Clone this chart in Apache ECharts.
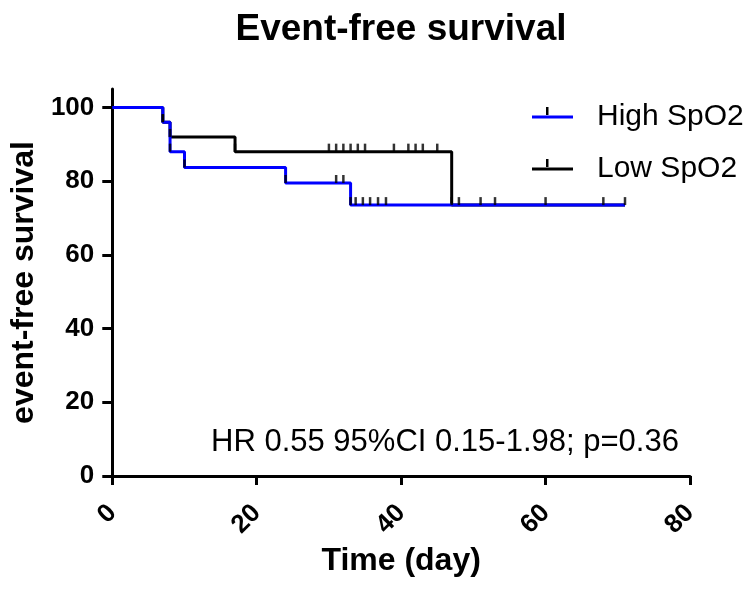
<!DOCTYPE html>
<html>
<head>
<meta charset="utf-8">
<script src="https://cdn.jsdelivr.net/npm/echarts@6/dist/echarts.min.js"></script>
<style>html,body{margin:0;padding:0;background:#fff;}#c{width:744px;height:591px;}</style>
</head>
<body>
<div id="c"></div>
<script>
// Kaplan-Meier step points [day, survival %]
const highSteps = [[0,100],[7,96],[8,88],[10,83.7],[24,79.5],[33,73.5],[71,73.5]];
const lowSteps = [[0,100],[7,96],[8,92],[17,88],[47,73.5],[71,73.5]];
// censor marks [day, survival %]
const highCensor = [[31,79.5],[32,79.5],[33.7,73.5],[34.7,73.5],[35.7,73.5],[36.8,73.5],[37.9,73.5]];
const lowCensor = [[30,88],[31,88],[32,88],[33,88],[34,88],[35,88],[39,88],[41,88],[42,88],[43,88],[45,88],
                   [48,73.5],[51,73.5],[53,73.5],[60,73.5],[68,73.5],[71,73.5]];
const yTicks = [0,20,40,60,80,100];
const xTicks = [0,20,40,60,80];
const seriesNames = ['High SpO2','Low SpO2'];
const titleText = 'Event-free survival';
const annotation = 'HR 0.55 95%CI 0.15-1.98; p=0.36';

// event symbols sit at every step point (except the start and the end of follow-up)
const highEvents = highSteps.slice(1, -1);
const lowEvents = lowSteps.slice(1, -1);

const chart = echarts.init(document.getElementById('c'));
const F = 'Liberation Sans, Arial, sans-serif';
const tickSym = {symbol:'rect', symbolSize:[2.5,8], symbolOffset:[0,-4], itemStyle:{color:'#000'}, silent:true};
chart.setOption({
  animation:false,
  title:{text:titleText, left:396, top:6, textAlign:'center',
    textStyle:{fontFamily:F, fontSize:37, fontWeight:'bold', color:'#000'}},
  grid:{left:112, right:54, top:89, bottom:115, containLabel:false},
  legend:{orient:'vertical', left:527, top:97, itemWidth:41, itemHeight:3, itemGap:22,
    data:seriesNames.map(n => ({name:n, icon:'rect'})),
    textStyle:{fontFamily:F, fontSize:30, color:'#000', padding:[0,0,0,19]}},
  xAxis:{type:'value', min:0, max:80, interval:20,
    name:'Time (day)', nameLocation:'middle', nameGap:68,
    nameTextStyle:{fontFamily:F, fontSize:32, fontWeight:'bold', color:'#000'},
    axisLine:{lineStyle:{color:'#000', width:3}},
    axisTick:{length:9, lineStyle:{color:'#000', width:3}},
    axisLabel:{rotate:45, margin:33, fontFamily:F, fontSize:26, fontWeight:'bold', color:'#000'},
    splitLine:{show:false}},
  yAxis:{type:'value', min:0, max:105,
    name:'event-free survival', nameLocation:'middle', nameGap:72,
    nameTextStyle:{fontFamily:F, fontSize:32, fontWeight:'bold', color:'#000'},
    axisLine:{show:true, lineStyle:{color:'#000', width:3}},
    axisTick:{show:true, length:10, customValues:yTicks, lineStyle:{color:'#000', width:3}},
    axisLabel:{customValues:yTicks, margin:18, fontFamily:F, fontSize:26, fontWeight:'bold', color:'#000'},
    splitLine:{show:false}},
  series:[
    {name:seriesNames[1], type:'line', step:'end', data:lowSteps, symbol:'none', z:2,
      lineStyle:{color:'#000', width:3}, itemStyle:{color:'#000'}},
    {name:seriesNames[0], type:'line', step:'end', data:highSteps, symbol:'none', z:3,
      lineStyle:{color:'#0000ff', width:3}, itemStyle:{color:'#0000ff'}},
    Object.assign({name:'high events', type:'scatter', data:highEvents, z:4}, tickSym),
    Object.assign({name:'low events', type:'scatter', data:lowEvents, z:4}, tickSym),
    Object.assign({name:'high censored', type:'scatter', data:highCensor, z:4}, tickSym),
    Object.assign({name:'low censored', type:'scatter', data:lowCensor, z:4}, tickSym)
  ],
  graphic:[
    {type:'rect', shape:{x:546, y:107, width:2.5, height:8}, style:{fill:'#000'}, z:10},
    {type:'rect', shape:{x:546, y:159, width:2.5, height:8}, style:{fill:'#000'}, z:10},
    {type:'text', left:211, top:427, style:{text:annotation, fontFamily:F, fontSize:31, fill:'#000'}}
  ]
});
</script>
</body>
</html>
